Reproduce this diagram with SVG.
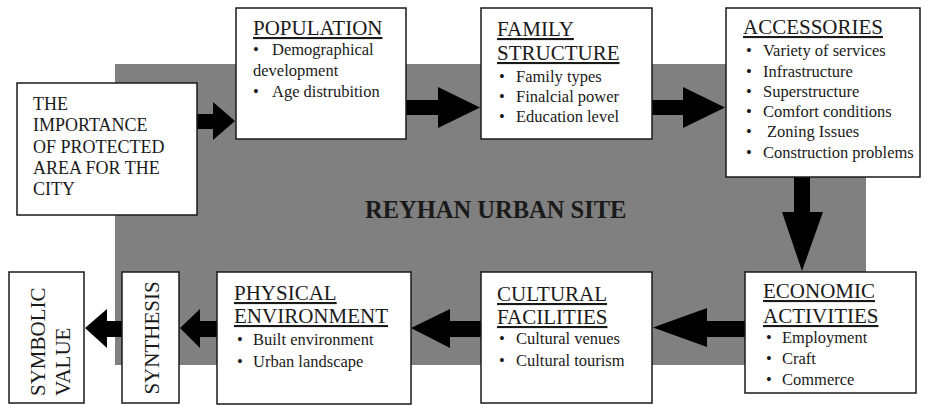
<svg xmlns="http://www.w3.org/2000/svg" width="927" height="405" viewBox="0 0 927 405">
<style>
.box{fill:#ffffff;stroke:#1a1a1a;stroke-width:1.5}
text{font-family:"Liberation Serif","DejaVu Serif","Times New Roman",serif;fill:#1a1a1a}
.t{font-size:21px;text-decoration:underline}
.b{font-size:16.5px}
.m{font-size:18px}
.r{font-size:21px}
.arrow{fill:#000000}
</style>
<rect width="927" height="405" fill="#ffffff"/>
<rect id="site" x="115" y="64" width="751" height="301" fill="#808080"/>
<text x="365" y="218" style="font-size:24.5px;font-weight:bold">REYHAN URBAN SITE</text>

<g id="connectors">
<polygon class="arrow" points="197,114 213,114 213,102 235,121 213,140 213,129 197,129"/>
<polygon class="arrow" points="406,100 438,100 438,87 480,107.5 438,128 438,115 406,115"/>
<polygon class="arrow" points="652,100 683,100 683,87 725,107.5 683,128 683,115 652,115"/>
<polygon class="arrow" points="794,177 810,177 810,212 823,212 802,271 782,212 794,212"/>
<polygon class="arrow" points="745,321 707,321 707,308 653,327.5 707,347 707,337 745,337"/>
<polygon class="arrow" points="481,321 450,321 450,309 411,328 450,348 450,337 481,337"/>
<polygon class="arrow" points="217,321 200,321 200,309 180,328 200,348 200,337 217,337"/>
<polygon class="arrow" points="122,321 107,321 107,309 85,328 107,348 107,337 122,337"/>
</g>

<g id="importance">
<rect class="box" x="17" y="83" width="180" height="132"/>
<text class="m" x="33" y="110">THE</text>
<text class="m" x="33" y="131">IMPORTANCE</text>
<text class="m" x="33" y="153">OF PROTECTED</text>
<text class="m" x="33" y="174">AREA FOR THE</text>
<text class="m" x="33" y="195">CITY</text>
</g>

<g id="population">
<rect class="box" x="236" y="8" width="170" height="131"/>
<text class="t" x="253" y="35">POPULATION</text>
<text class="b" x="253" y="55">•</text>
<text class="b" x="272" y="55">Demographical</text>
<text class="b" x="253" y="76">development</text>
<text class="b" x="253" y="97">•</text>
<text class="b" x="272" y="97">Age distrubition</text>
</g>

<g id="family">
<rect class="box" x="481" y="8" width="171" height="131"/>
<text class="t" x="497" y="36">FAMILY</text>
<text class="t" x="497" y="60">STRUCTURE</text>
<text class="b" x="499" y="82">•</text>
<text class="b" x="516" y="82">Family types</text>
<text class="b" x="499" y="102">•</text>
<text class="b" x="516" y="102">Finalcial power</text>
<text class="b" x="499" y="122">•</text>
<text class="b" x="516" y="122">Education level</text>
</g>

<g id="accessories">
<rect class="box" x="726" y="8" width="194" height="169"/>
<text class="t" x="743" y="34">ACCESSORIES</text>
<text class="b" x="746" y="56">•</text>
<text class="b" x="763" y="56">Variety of services</text>
<text class="b" x="746" y="77">•</text>
<text class="b" x="763" y="77">Infrastructure</text>
<text class="b" x="746" y="97">•</text>
<text class="b" x="763" y="97">Superstructure</text>
<text class="b" x="746" y="117">•</text>
<text class="b" x="763" y="117">Comfort conditions</text>
<text class="b" x="746" y="137">•</text>
<text class="b" x="767" y="137">Zoning Issues</text>
<text class="b" x="746" y="158">•</text>
<text class="b" x="763" y="158">Construction problems</text>
</g>

<g id="economic">
<rect class="box" x="745" y="272" width="171" height="121"/>
<text class="t" x="763" y="298">ECONOMIC</text>
<text class="t" x="763" y="323">ACTIVITIES</text>
<text class="b" x="766" y="343">•</text>
<text class="b" x="782" y="343">Employment</text>
<text class="b" x="766" y="364">•</text>
<text class="b" x="782" y="364">Craft</text>
<text class="b" x="766" y="385">•</text>
<text class="b" x="782" y="385">Commerce</text>
</g>

<g id="cultural">
<rect class="box" x="481" y="272" width="171" height="131"/>
<text class="t" x="497" y="301">CULTURAL</text>
<text class="t" x="497" y="324">FACILITIES</text>
<text class="b" x="499" y="344">•</text>
<text class="b" x="516" y="344">Cultural venues</text>
<text class="b" x="499" y="366">•</text>
<text class="b" x="516" y="366">Cultural tourism</text>
</g>

<g id="physical">
<rect class="box" x="217" y="272" width="194" height="132"/>
<text class="t" x="234" y="300">PHYSICAL</text>
<text class="t" x="234" y="323">ENVIRONMENT</text>
<text class="b" x="237" y="345">•</text>
<text class="b" x="253" y="345">Built environment</text>
<text class="b" x="237" y="367">•</text>
<text class="b" x="253" y="367">Urban landscape</text>
</g>

<g id="synthesis">
<rect class="box" x="122" y="272" width="57" height="131"/>
<text class="r" transform="translate(159,338) rotate(-90)" text-anchor="middle">SYNTHESIS</text>
</g>

<g id="symbolic">
<rect class="box" x="9" y="272" width="75" height="131"/>
<text class="r" transform="translate(45,396) rotate(-90)">SYMBOLIC</text>
<text class="r" transform="translate(70,396) rotate(-90)">VALUE</text>
</g>
</svg>
